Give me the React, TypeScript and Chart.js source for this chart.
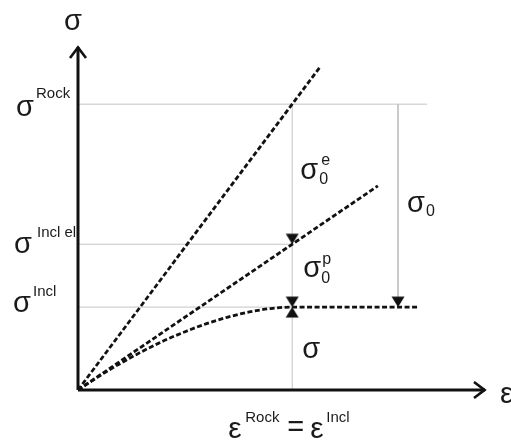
import { useEffect, useRef } from 'react';
import { Chart, registerables } from 'chart.js';

Chart.register(...registerables);

// ---- data (schematic units: eps^Rock = 1, sigma^Rock = 1) ----
const EPS_MAX = 1.9;
const SIGMA_MAX = 1.2;
const epsRock = 1.0; // eps^Rock = eps^Incl
const levelNames = ['Rock', 'Incl el', 'Incl'];
const sigmaLevels = [1.0, 0.51, 0.29]; // sigma^Rock, sigma^Incl el, sigma^Incl
const levelEnds = [1.63, 1.0, 1.0];

const rockEps = [0, 1.13];
const rockSigma = [0, 1.13];
const inclElEps = [0, 1.4];
const inclElSigma = [0, 0.714];
const inclEps = [0, 0.1, 0.2, 0.3, 0.4, 0.5, 0.6, 0.7, 0.8, 0.9, 1.0, 1.59];
const inclSigma = [0, 0.049, 0.094, 0.135, 0.172, 0.204, 0.232, 0.255, 0.273, 0.285, 0.29, 0.29];
const sigma0Eps = 1.494;

const pts = (xs: number[], ys: number[]) => xs.map((v, i) => ({ x: v, y: ys[i] }));

function makeTriangle(): HTMLCanvasElement {
  const c = document.createElement('canvas');
  c.width = 24;
  c.height = 24;
  const g = c.getContext('2d')!;
  g.fillStyle = '#111';
  g.beginPath();
  g.moveTo(5.5, 1.5);
  g.lineTo(18.5, 1.5);
  g.lineTo(12, 12);
  g.closePath();
  g.fill();
  return c;
}

function makeChevron(): HTMLCanvasElement {
  const c = document.createElement('canvas');
  c.width = 30;
  c.height = 30;
  const g = c.getContext('2d')!;
  g.strokeStyle = '#111';
  g.lineWidth = 2.6;
  g.lineJoin = 'miter';
  g.beginPath();
  g.moveTo(7, 26);
  g.lineTo(15, 15.5);
  g.lineTo(23, 26);
  g.stroke();
  return c;
}

const FONT = '"Liberation Sans", Arial, sans-serif';

const labelPlugin = {
  id: 'schemaLabels',
  afterDatasetsDraw(chart: any) {
    const { ctx, chartArea } = chart;
    const xs = chart.scales.x;
    const ys = chart.scales.y;
    const big = `29px ${FONT}`;
    const eps = `30px ${FONT}`;
    const sup = `15px ${FONT}`;
    const idx = `16px ${FONT}`;
    const t = (s: string, px: number, py: number, f: string) => {
      ctx.font = f;
      ctx.fillText(s, px, py);
    };
    ctx.save();
    ctx.fillStyle = '#1a1a1a';
    ctx.textAlign = 'left';
    ctx.textBaseline = 'alphabetic';

    // level labels on the stress axis (clipped by the axis)
    const off = [
      { sx: 16, sy: 12, ux: 36, uy: -6 },
      { sx: 14, sy: 9, ux: 37, uy: -7 },
      { sx: 13, sy: 5, ux: 33, uy: -11 },
    ];
    ctx.save();
    ctx.beginPath();
    ctx.rect(0, 0, chartArea.left - 1.5, chart.height);
    ctx.clip();
    sigmaLevels.forEach((lv, i) => {
      const py = ys.getPixelForValue(lv);
      t('σ', off[i].sx, py + off[i].sy, big);
      t(levelNames[i], off[i].ux, py + off[i].uy, sup);
    });
    ctx.restore();

    // axis titles
    const x0 = xs.getPixelForValue(0);
    const y0 = ys.getPixelForValue(0);
    const yTop = ys.getPixelForValue(SIGMA_MAX);
    const xRight = xs.getPixelForValue(EPS_MAX);
    t('σ', x0 - 14, yTop - 17, big);
    t('ε', xRight + 15, y0 + 13, eps);

    // eps^Rock = eps^Incl
    const xr = xs.getPixelForValue(epsRock);
    t('ε', xr - 64, y0 + 48, eps);
    t('Rock', xr - 47, y0 + 32, sup);
    t('=', xr - 5, y0 + 46, big);
    t('ε', xr + 18, y0 + 48, eps);
    t('Incl', xr + 34, y0 + 32, sup);

    // stress components
    const pR = ys.getPixelForValue(sigmaLevels[0]);
    const pE = ys.getPixelForValue(sigmaLevels[1]);
    const pI = ys.getPixelForValue(sigmaLevels[2]);
    const m1 = (pR + pE) / 2;
    t('σ', xr + 8, m1 + 4.5, big);
    t('e', xr + 29, m1 - 9.5, idx);
    t('0', xr + 27, m1 + 9.5, idx);
    const m2 = (pE + pI) / 2;
    t('σ', xr + 11, m2 + 1.5, big);
    t('p', xr + 30, m2 - 11.5, idx);
    t('0', xr + 29, m2 + 7.5, idx);
    const m3 = (pI + y0) / 2;
    t('σ', xr + 10, m3 + 9.5, big);
    const xs0 = xs.getPixelForValue(sigma0Eps);
    const m4 = (pR + pI) / 2;
    t('σ', xs0 + 9, m4 + 6, big);
    t('0', xs0 + 28, m4 + 10, idx);

    ctx.restore();
  },
};

export default function App() {
  const ref = useRef<HTMLCanvasElement | null>(null);

  useEffect(() => {
    if (!ref.current) return;
    const tri = makeTriangle();
    const chev = makeChevron();
    const dashed = {
      showLine: true,
      borderColor: '#111',
      borderWidth: 2.8,
      borderDash: [5, 2.5],
      pointRadius: 0,
      fill: false,
      clip: false as any,
      order: 3,
    };
    const gray = {
      showLine: true,
      borderColor: '#c4c4c4',
      borderWidth: 1,
      pointRadius: 0,
      fill: false,
      clip: false as any,
      order: 6,
    };
    const datasets: any[] = [
      { ...dashed, data: pts(rockEps, rockSigma) },
      { ...dashed, data: pts(inclElEps, inclElSigma) },
      { ...dashed, data: pts(inclEps, inclSigma), cubicInterpolationMode: 'monotone' },
      ...sigmaLevels.map((lv, i) => ({ ...gray, data: [{ x: 0, y: lv }, { x: levelEnds[i], y: lv }] })),
      { ...gray, data: [{ x: epsRock, y: 0 }, { x: epsRock, y: sigmaLevels[0] }] },
      { ...gray, data: [{ x: sigma0Eps, y: sigmaLevels[0] }, { x: sigma0Eps, y: sigmaLevels[2] }] },
      // axes
      {
        showLine: true, borderColor: '#111', borderWidth: 3, pointRadius: 0, clip: false, order: 2,
        data: [{ x: 0, y: 0 }, { x: 0, y: SIGMA_MAX }],
      },
      {
        showLine: true, borderColor: '#111', borderWidth: 3, pointRadius: 0, clip: false, order: 2,
        data: [{ x: 0, y: 0 }, { x: EPS_MAX, y: 0 }],
      },
      // arrow heads
      {
        showLine: false, pointStyle: chev, pointRadius: 8, rotation: 0, clip: false, order: 1,
        data: [{ x: 0, y: SIGMA_MAX }],
      },
      {
        showLine: false, pointStyle: chev, pointRadius: 8, rotation: 90, clip: false, order: 1,
        data: [{ x: EPS_MAX, y: 0 }],
      },
      // triangles (tip at the point)
      {
        showLine: false, pointStyle: tri, pointRadius: 8, rotation: 0, clip: false, order: 1,
        data: [
          { x: epsRock, y: sigmaLevels[1] },
          { x: epsRock, y: sigmaLevels[2] },
          { x: sigma0Eps, y: sigmaLevels[2] },
        ],
      },
      {
        showLine: false, pointStyle: tri, pointRadius: 8, rotation: 180, clip: false, order: 1,
        data: [{ x: epsRock, y: sigmaLevels[2] }],
      },
    ];

    const chart = new Chart(ref.current, {
      type: 'scatter',
      data: { datasets },
      options: {
        animation: false,
        responsive: false,
        devicePixelRatio: 1,
        layout: { padding: { left: 78, right: 26, top: 47, bottom: 50 } },
        scales: {
          x: { type: 'linear', min: 0, max: EPS_MAX, display: false },
          y: { type: 'linear', min: 0, max: SIGMA_MAX, display: false },
        },
        plugins: { legend: { display: false }, tooltip: { enabled: false } },
        events: [],
      },
      plugins: [labelPlugin],
    });
    return () => chart.destroy();
  }, []);

  return (
    <div style={{ position: 'fixed', left: 0, top: 0, width: 511, height: 440, background: '#fff' }}>
      <canvas ref={ref} width={511} height={440} style={{ display: 'block', width: 511, height: 440 }} />
    </div>
  );
}
